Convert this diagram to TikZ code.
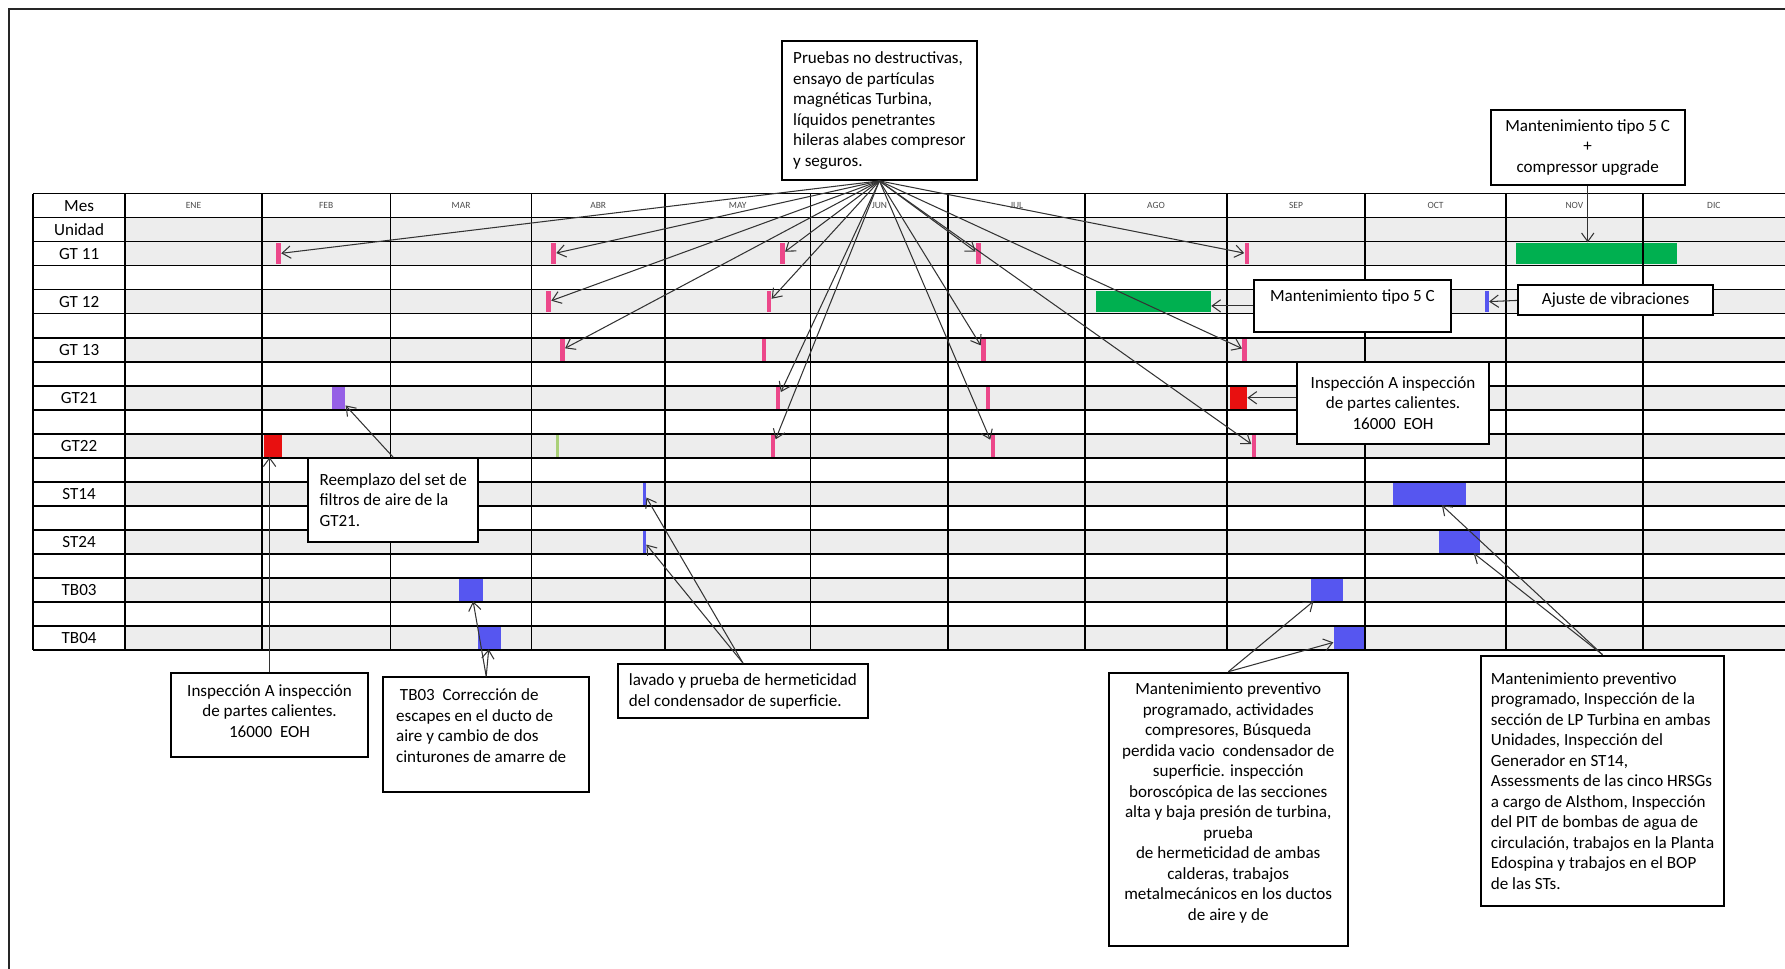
\documentclass[tikz,border=0pt]{standalone}
\usepackage{fontspec}
\setmainfont{Carlito}
\usepackage{tikz}
\usetikzlibrary{arrows.meta}
\definecolor{pinkmk}{RGB}{236,72,138}
\definecolor{redbar}{RGB}{232,16,16}
\definecolor{greenbar}{RGB}{0,176,80}
\definecolor{bluebar}{RGB}{86,86,240}
\definecolor{purplebar}{RGB}{150,96,230}
\definecolor{limebar}{RGB}{170,208,120}
\newcommand{\px}{0.6pt}

\begin{document}
\begin{tikzpicture}[x=0.6pt, y=-0.6pt,
  tabline/.style={black, line width=0.9pt},
  rowfill/.style={fill=black!7},
  bar/.style={inner sep=0pt, minimum height=19*\px},
  callout/.style={draw=black, line width=1.1pt, fill=white, inner sep=4pt, font=\fontsize{9}{10.8}\selectfont},
  monlab/.style={font=\fontsize{5}{6}\selectfont, text=black!70},
  rowlab/.style={font=\fontsize{9}{10.8}\selectfont},
  arr/.style={-{Straight Barb[length=4.5pt,width=6.5pt]}, black!80, line width=0.55pt}]
  \useasboundingbox (0,0) rectangle (1568,851);
  % page frame
  \draw[black!85, line width=0.8pt] (8,851) -- (8,8) -- (1568,8);
  % shaded unit rows
  \foreach \i in {1,2,4,6,8,10,12,14,16,18}
    \fill[rowfill] (110,{170+\i*21.1}) rectangle (1568,{170+(\i+1)*21.1});
  % GT 11
  \node[bar, fill=pinkmk, minimum width=4*\px] (gt11feb) at (244.7,222.8) {};
  \node[bar, fill=pinkmk, minimum width=4*\px] (gt11abr) at (486.3,222.8) {};
  \node[bar, fill=pinkmk, minimum width=4*\px] (gt11may) at (687.3,222.8) {};
  \node[bar, fill=pinkmk, minimum width=4*\px] (gt11jul) at (859.4,222.8) {};
  \node[bar, fill=pinkmk, minimum width=4*\px] (gt11sep) at (1095.3,222.8) {};
  \node[bar, fill=greenbar, minimum width=141*\px] (gt11nov) at (1402.5,222.8) {};
  % GT 12
  \node[bar, fill=pinkmk, minimum width=4*\px] (gt12abr) at (481.9,265) {};
  \node[bar, fill=pinkmk, minimum width=4*\px] (gt12may) at (675.5,265) {};
  \node[bar, fill=greenbar, minimum width=101.3*\px] (gt12ago) at (1013,265) {};
  \node[bar, fill=bluebar, minimum width=3*\px] (gt12nov) at (1306.2,265) {};
  % GT 13
  \node[bar, fill=pinkmk, minimum width=4*\px] (gt13abr) at (494,307.2) {};
  \node[bar, fill=pinkmk, minimum width=4*\px] (gt13may) at (671.1,307.2) {};
  \node[bar, fill=pinkmk, minimum width=4*\px] (gt13jul) at (863.8,307.2) {};
  \node[bar, fill=pinkmk, minimum width=4*\px] (gt13sep) at (1093.3,307.2) {};
  % GT21
  \node[bar, fill=purplebar, minimum width=11.7*\px] (gt21feb) at (297.4,349.4) {};
  \node[bar, fill=pinkmk, minimum width=4*\px] (gt21may) at (683.6,349.4) {};
  \node[bar, fill=pinkmk, minimum width=4*\px] (gt21jul) at (867.9,349.4) {};
  \node[bar, fill=redbar, minimum width=15.3*\px] (gt21sep) at (1087.7,349.4) {};
  % GT22
  \node[bar, fill=redbar, minimum width=15.8*\px] (gt22feb) at (239.9,391.7) {};
  \node[bar, fill=limebar, minimum width=3*\px] (gt22abr) at (489.6,391.7) {};
  \node[bar, fill=pinkmk, minimum width=4*\px] (gt22may) at (679,391.7) {};
  \node[bar, fill=pinkmk, minimum width=4*\px] (gt22jul) at (872.2,391.7) {};
  \node[bar, fill=pinkmk, minimum width=4*\px] (gt22sep) at (1101.5,391.7) {};
  % ST14 / ST24
  \node[bar, fill=bluebar, minimum width=3*\px] (st14may) at (566,433.9) {};
  \node[bar, fill=bluebar, minimum width=64*\px] (st14oct) at (1256,433.9) {};
  \node[bar, fill=bluebar, minimum width=3*\px] (st24may) at (566,476.1) {};
  \node[bar, fill=bluebar, minimum width=36*\px] (st24oct) at (1282,476.1) {};
  % TB03 / TB04
  \node[bar, fill=bluebar, minimum width=20.8*\px] (tb03mar) at (413.9,518.3) {};
  \node[bar, fill=bluebar, minimum width=28.1*\px] (tb03sep) at (1165.7,518.3) {};
  \node[bar, fill=bluebar, minimum width=20.4*\px] (tb04mar) at (430.2,560.5) {};
  \node[bar, fill=bluebar, minimum width=26.5*\px] (tb04sep) at (1184.8,560.5) {};
  % table grid
  \foreach \i in {0,...,19}
    \draw[tabline] (29,{170+\i*21.1}) -- (1568,{170+\i*21.1});
  \foreach \x in {29,110,230,343,467,584,712,833,953,1078,1199,1323,1443}
    \draw[tabline] (\x,170) -- (\x,571);
  % month header
  \foreach \m/\xa/\xb in {ENE/110/230,FEB/230/343,MAR/343/467,ABR/467/584,MAY/584/712,JUN/712/833,
                          JUL/833/953,AGO/953/1078,SEP/1078/1199,OCT/1199/1323,NOV/1323/1443,DIC/1443/1568}
    \node[monlab] (mes\m) at ({(\xa+\xb)/2},180.6) {\m};
  % unit labels
  \node[rowlab] (lab0) at (69.5,180.6) {Mes};
  \foreach \i/\t in {1/Unidad,2/GT 11,4/GT 12,6/GT 13,8/GT21,10/GT22,12/ST14,14/ST24,16/TB03,18/TB04}
    \node[rowlab] (lab\i) at (69.5,{170+(\i+0.5)*21.1}) {\t};
  % callouts, top
  \node[callout, align=left, minimum width=171*\px, minimum height=122*\px] (pruebas) at (772.5,97)
    {Pruebas no destructivas,\\ensayo de partículas\\magnéticas Turbina,\\líquidos penetrantes\\hileras alabes compresor\\y seguros.};
  \node[callout, align=center, minimum width=170.5*\px, minimum height=66*\px] (mantcu) at (1394.7,129.5)
    {Mantenimiento tipo 5 C\\+\\compressor upgrade};
  \node[callout, align=center, minimum width=173*\px, minimum height=45.3*\px] (mantgt) at (1188,268.7)
    {Mantenimiento tipo 5 C\\[0pt]\mbox{}};
  \node[callout, align=center, minimum width=171.6*\px, minimum height=25.7*\px] (ajuste) at (1419.2,263.9)
    {Ajuste de vibraciones};
  \node[callout, align=center, minimum width=168.7*\px, minimum height=72.3*\px] (inspder) at (1223.7,353.9)
    {Inspección A inspección\\de partes calientes.\\16000\ \ EOH};
  \node[callout, align=left, minimum width=149.6*\px, minimum height=73.2*\px] (reemplazo) at (345.4,439.2)
    {Reemplazo del set de\\filtros de aire de la\\GT21.};
  % callouts, bottom
  \node[callout, align=center, minimum width=172.4*\px, minimum height=73.8*\px] (inspizq) at (236.8,628.4)
    {Inspección A inspección\\de partes calientes.\\16000\ \ EOH\\[-6pt]\mbox{}};
  \node[callout, align=flush left, text width=95pt, minimum width=180.6*\px, minimum height=100.4*\px] (tbcorr) at (427.1,645.2)
    {\ TB03\ \ Corrección de\\escapes en el ducto de\\aire y cambio de dos\\cinturones de amarre de\\[-1.2pt]\mbox{}};
  \node[callout, align=left, minimum width=220*\px, minimum height=47.7*\px] (lavado) at (652.6,607.2)
    {lavado y prueba de hermeticidad\\del condensador de superficie.};
  \node[callout, align=center, minimum width=210.2*\px, minimum height=240*\px] (mantprev) at (1078.9,711)
    {Mantenimiento preventivo\\programado, actividades\\compresores, Búsqueda\\perdida vacio\ \ condensador de\\superficie. inspección\\boroscópica de las secciones\\alta y baja presión de turbina,\\prueba\\de hermeticidad de ambas\\calderas, trabajos\\metalmecánicos en los ductos\\de aire y de\\[-2.4pt]\mbox{}};
  \node[callout, align=left, minimum width=213.5*\px, minimum height=220*\px] (mantst) at (1407.7,686)
    {Mantenimiento preventivo\\programado, Inspección de la\\sección de LP Turbina en ambas\\Unidades, Inspección del\\Generador en ST14,\\Assessments de las cinco HRSGs\\a cargo\ de Alsthom, Inspección\\del PIT de bombas de agua de\\circulación, trabajos en la Planta\\Edospina y trabajos en el BOP\\de las STs.};
  % fan of arrows from the top callout
  \foreach \t in {gt11feb,gt11abr,gt12abr,gt13abr,gt11may,gt12may,gt21may,gt22may,
                  gt11jul,gt13jul,gt22jul,gt11sep,gt13sep,gt22sep}
    \draw[arr] (pruebas.south) -- (\t);
  % single arrows
  \draw[arr] (mantcu.south) -- (mantcu.south |- gt11nov.north);
  \draw[arr] (mantgt.west) -- (mantgt.west -| gt12ago.east);
  \draw[arr] (ajuste.west) -- (gt12nov);
  \draw[arr] (inspder.west |- gt21sep) -- (gt21sep.east);
  \draw[arr] (reemplazo.north) -- (gt21feb);
  \draw[arr] (inspizq.north) -- (inspizq.north |- gt22feb.south);
  \draw[arr] (tbcorr.north) -- (tb03mar);
  \draw[arr] (tbcorr.north) -- (tb04mar);
  \draw[arr] (lavado.north) -- (st14may);
  \draw[arr] (lavado.north) -- (st24may);
  \draw[arr] (mantprev.north) -- (tb03sep);
  \draw[arr] (mantprev.north) -- (tb04sep);
  \draw[arr] (mantst.north) -- (st14oct);
  \draw[arr] (mantst.north) -- (st24oct);
\end{tikzpicture}
\end{document}
